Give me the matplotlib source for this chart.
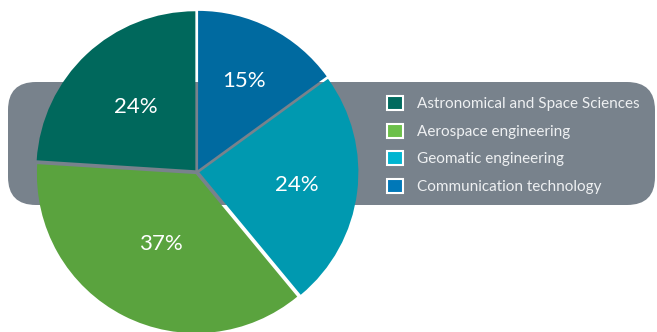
import matplotlib

matplotlib.use("Agg")
import matplotlib.patches as mpatches
import matplotlib.pyplot as plt
import numpy as np

# fields of study, legend order (pie runs counter-clockwise from 12 o'clock)
FIELDS = [
    "Astronomical and Space Sciences",
    "Aerospace engineering",
    "Geomatic engineering",
    "Communication technology",
]
SHARES = [24, 37, 24, 15]

SLICE_COLORS = ["#00685c", "#5aa33e", "#0099b0", "#006aa0"]
LEGEND_COLORS = ["#006a5e", "#6cc04a", "#00b5d1", "#0078b8"]
BAND_COLOR = "#78828c"
# how far out each % label sits, as a fraction of the radius
LABEL_DIST = [0.55, 0.49, 0.62, 0.63]

W, H = 657, 332
fig = plt.figure(figsize=(W / 100, H / 100), dpi=100)
plt.rcParams["font.family"] = ["Lato", "DejaVu Sans"]

# background band, drawn in pixel coords
bg = fig.add_axes([0, 0, 1, 1], zorder=0)
bg.set_xlim(0, W)
bg.set_ylim(H, 0)
bg.set_axis_off()
band = mpatches.FancyBboxPatch((8, 82), 647, 123,
                               boxstyle="round,pad=0,rounding_size=28",
                               facecolor=BAND_COLOR, edgecolor="none")
bg.add_patch(band)

# pie: centre ~ (197, 172) px, radius ~ 160 px
cx, cy, r = 197, 172, 159
lim = 1.1
side = 2 * r * lim
ax = fig.add_axes([(cx - r * lim) / W, (H - cy - r * lim) / H, side / W, side / H],
                  zorder=1)
ax.set_aspect("equal")
ax.set_axis_off()

wedges, texts, autotexts = ax.pie(
    SHARES, colors=SLICE_COLORS, startangle=90, counterclock=True,
    explode=[0.015] * len(SHARES), radius=1.0,
    autopct=lambda p: f"{p:.0f}%", pctdistance=0.58,
    wedgeprops=dict(linewidth=0), textprops=dict(color="white", fontsize=16),
    frame=False,
)
for w, t, d in zip(wedges, autotexts, LABEL_DIST):
    mid = np.deg2rad((w.theta1 + w.theta2) / 2)
    x0, y0 = w.center
    t.set_position((x0 + d * np.cos(mid), y0 + d * np.sin(mid)))
ax.set_xlim(-lim, lim)
ax.set_ylim(-lim, lim)

handles = [mpatches.Patch(facecolor=c, edgecolor="white", linewidth=1.5, label=l)
           for c, l in zip(LEGEND_COLORS, FIELDS)]
leg = fig.legend(handles=handles, loc="upper left",
                 bbox_to_anchor=(387 / W, (H - 96) / H), frameon=False,
                 fontsize=11, labelcolor="#eef0f2", handlelength=1.05,
                 handleheight=1.05, handletextpad=0.9, labelspacing=0.8,
                 borderpad=0, borderaxespad=0)
leg.set_zorder(2)

fig.savefig("out.png", dpi=100)
